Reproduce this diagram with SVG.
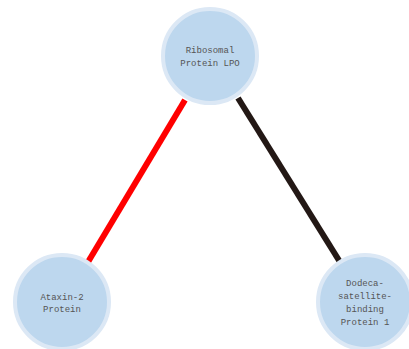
<svg xmlns="http://www.w3.org/2000/svg" width="409" height="349" viewBox="0 0 409 349">
<style>
.node circle{fill:#bdd7ee;stroke:#dce8f5;stroke-width:4}
.node text{font-family:"Liberation Mono","DejaVu Sans Mono",monospace;font-size:9px;fill:#555;text-anchor:middle}
.edge{stroke-width:6;fill:none}
</style>
<rect width="409" height="349" fill="#fff"/>
<g id="connectors">
<line class="edge" x1="185" y1="100" x2="88" y2="262" stroke="#ff0000"/>
<line class="edge" x1="238" y1="98" x2="340" y2="262" stroke="#231815"/>
</g>
<g id="node-lpo" class="node">
<circle cx="210" cy="56" r="47"/>
<text x="210" y="53">Ribosomal</text>
<text x="210" y="66">Protein LPO</text>
</g>
<g id="node-ataxin" class="node">
<circle cx="62" cy="302" r="47"/>
<text x="62" y="300">Ataxin-2</text>
<text x="62" y="312">Protein</text>
</g>
<g id="node-dodeca" class="node">
<circle cx="365" cy="302" r="47"/>
<text x="365" y="286">Dodeca-</text>
<text x="365" y="299">satellite-</text>
<text x="365" y="312">binding</text>
<text x="365" y="325">Protein 1</text>
</g>
</svg>
